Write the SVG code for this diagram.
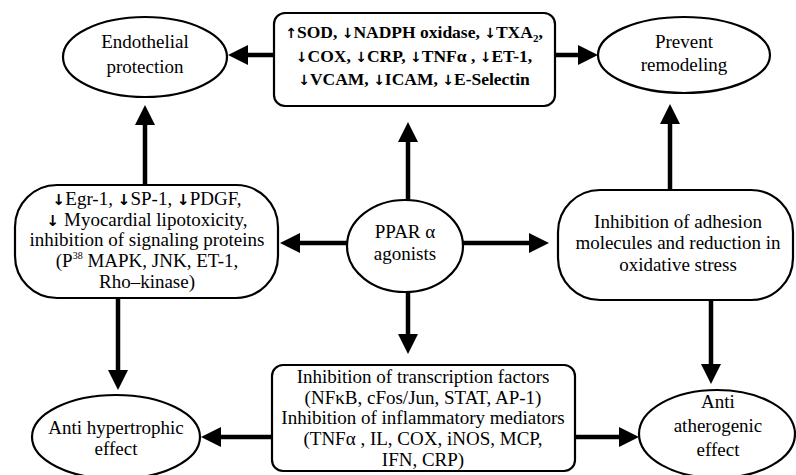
<svg xmlns="http://www.w3.org/2000/svg" width="796" height="475" viewBox="0 0 796 475">
<style>
  .shape { fill: #fff; stroke: #000; stroke-width: 2.2; }
  .t { font-family: "Liberation Serif", "DejaVu Serif", serif; font-size: 19px; fill: #000; text-anchor: middle; }
  .b { font-weight: bold; font-size: 17.5px; }
  .ar { font-family: "DejaVu Sans", sans-serif; font-size: 0.8em; font-weight: bold; fill: #000; }
  .c { stroke: #000; stroke-width: 4.5; fill: none; marker-end: url(#ah); }
</style>
<defs>
  <marker id="ah" markerUnits="userSpaceOnUse" viewBox="0 0 20 20" markerWidth="20" markerHeight="20" refX="12" refY="10" orient="auto">
    <path d="M0,0 L20,10 L0,20 z" fill="#000"/>
  </marker>
</defs>
<rect width="796" height="475" fill="#fff"/>

<g id="connectors">
  <line class="c" x1="274" y1="55" x2="236" y2="55"/>
  <line class="c" x1="555" y1="55" x2="590" y2="55"/>
  <line class="c" x1="145" y1="185" x2="145" y2="113"/>
  <line class="c" x1="670" y1="190" x2="670" y2="112"/>
  <line class="c" x1="408" y1="200" x2="408" y2="130"/>
  <line class="c" x1="347" y1="243" x2="288" y2="243"/>
  <line class="c" x1="463" y1="243" x2="541" y2="243"/>
  <line class="c" x1="408" y1="292" x2="408" y2="346"/>
  <line class="c" x1="118" y1="298" x2="118" y2="382"/>
  <line class="c" x1="711" y1="300" x2="711" y2="376"/>
  <line class="c" x1="272" y1="437" x2="209" y2="437"/>
  <line class="c" x1="575" y1="437" x2="631" y2="437"/>
</g>

<g id="top-box">
  <rect class="shape" x="274" y="13" width="281" height="93" rx="11"/>
  <text class="t b" x="414" y="38"><tspan class="ar">↑</tspan>SOD, <tspan class="ar">↓</tspan>NADPH oxidase, <tspan class="ar">↓</tspan>TXA<tspan font-size="11" dy="4">2</tspan><tspan dy="-4">,</tspan></text>
  <text class="t b" x="414" y="62"><tspan class="ar">↓</tspan>COX, <tspan class="ar">↓</tspan>CRP, <tspan class="ar">↓</tspan>TNFα , <tspan class="ar">↓</tspan>ET-1,</text>
  <text class="t b" x="414" y="85"><tspan class="ar">↓</tspan>VCAM, <tspan class="ar">↓</tspan>ICAM, <tspan class="ar">↓</tspan>E-Selectin</text>
</g>

<g id="endothelial">
  <ellipse class="shape" cx="145" cy="57" rx="82" ry="40"/>
  <text class="t" x="145" y="48">Endothelial</text>
  <text class="t" x="145" y="73">protection</text>
</g>

<g id="prevent">
  <ellipse class="shape" cx="684" cy="55" rx="86" ry="38"/>
  <text class="t" x="684" y="48">Prevent</text>
  <text class="t" x="684" y="71">remodeling</text>
</g>

<g id="left-box">
  <rect class="shape" x="15" y="185" width="263" height="113" rx="42" ry="42"/>
  <text class="t" x="147" y="205"><tspan class="ar">↓</tspan>Egr-1, <tspan class="ar">↓</tspan>SP-1, <tspan class="ar">↓</tspan>PDGF,</text>
  <text class="t" x="147" y="226"><tspan class="ar">↓</tspan> Myocardial lipotoxicity,</text>
  <text class="t" x="147" y="246">inhibition of signaling proteins</text>
  <text class="t" x="147" y="267">(P<tspan font-size="10" dy="-8">38</tspan><tspan dy="8"> MAPK, JNK, ET-1,</tspan></text>
  <text class="t" x="147" y="288">Rho–kinase)</text>
</g>

<g id="ppar">
  <ellipse class="shape" cx="405" cy="246" rx="58" ry="46"/>
  <text class="t" x="405" y="238" font-size="20">PPAR α</text>
  <text class="t" x="405" y="260" font-size="20">agonists</text>
</g>

<g id="right-box">
  <rect class="shape" x="558" y="190" width="235" height="110" rx="42" ry="42"/>
  <text class="t" x="678" y="228">Inhibition of adhesion</text>
  <text class="t" x="678" y="249">molecules and reduction in</text>
  <text class="t" x="678" y="271">oxidative stress</text>
</g>

<g id="bottom-box">
  <rect class="shape" x="272" y="365" width="303" height="106" rx="11"/>
  <text class="t" x="423" y="383">Inhibition of transcription factors</text>
  <text class="t" x="423" y="404">(NFκB, cFos/Jun, STAT, AP-1)</text>
  <text class="t" x="423" y="424">Inhibition of inflammatory mediators</text>
  <text class="t" x="423" y="445">(TNFα , IL, COX, iNOS, MCP,</text>
  <text class="t" x="423" y="466">IFN, CRP)</text>
</g>

<g id="anti-hypertrophic">
  <ellipse class="shape" cx="116" cy="437" rx="84" ry="42"/>
  <text class="t" x="116" y="434">Anti hypertrophic</text>
  <text class="t" x="116" y="455">effect</text>
</g>

<g id="anti-atherogenic">
  <ellipse class="shape" cx="717" cy="434" rx="78" ry="44"/>
  <text class="t" x="718" y="408">Anti</text>
  <text class="t" x="718" y="432">atherogenic</text>
  <text class="t" x="718" y="456">effect</text>
</g>
</svg>
